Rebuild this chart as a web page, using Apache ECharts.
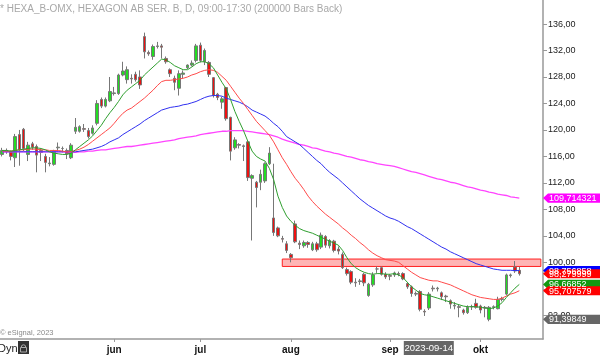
<!DOCTYPE html>
<html><head><meta charset="utf-8">
<script src="https://cdn.jsdelivr.net/npm/echarts@6/dist/echarts.min.js"></script>
<style>html,body{margin:0;padding:0;background:#fff}#c{width:600px;height:356px}</style>
</head><body><div id="c"></div>
<script>
const dates = ['2023-04-24','2023-04-25','2023-04-26','2023-04-27','2023-04-28',
'2023-05-02','2023-05-03','2023-05-04','2023-05-05','2023-05-08','2023-05-09','2023-05-10','2023-05-11','2023-05-12','2023-05-15','2023-05-16','2023-05-17','2023-05-19','2023-05-22','2023-05-23','2023-05-24','2023-05-25','2023-05-26','2023-05-29','2023-05-30','2023-05-31',
'2023-06-01','2023-06-02','2023-06-05','2023-06-07','2023-06-08','2023-06-09','2023-06-12','2023-06-13','2023-06-14','2023-06-15','2023-06-16','2023-06-19','2023-06-20','2023-06-21','2023-06-22','2023-06-26','2023-06-27','2023-06-28','2023-06-29','2023-06-30',
'2023-07-03','2023-07-04','2023-07-05','2023-07-06','2023-07-07','2023-07-10','2023-07-11','2023-07-12','2023-07-13','2023-07-14','2023-07-17','2023-07-18','2023-07-19','2023-07-20','2023-07-21','2023-07-24','2023-07-25','2023-07-26','2023-07-27','2023-07-28','2023-07-31',
'2023-08-01','2023-08-02','2023-08-03','2023-08-04','2023-08-07','2023-08-08','2023-08-09','2023-08-10','2023-08-11','2023-08-14','2023-08-15','2023-08-16','2023-08-17','2023-08-18','2023-08-21','2023-08-22','2023-08-23','2023-08-24','2023-08-25','2023-08-28','2023-08-29','2023-08-30','2023-08-31',
'2023-09-01','2023-09-04','2023-09-05','2023-09-06','2023-09-07','2023-09-08','2023-09-11','2023-09-12','2023-09-13','2023-09-14','2023-09-15','2023-09-18','2023-09-19','2023-09-20','2023-09-21','2023-09-22','2023-09-25','2023-09-26','2023-09-27','2023-09-28','2023-09-29',
'2023-10-02','2023-10-03','2023-10-04','2023-10-05','2023-10-06','2023-10-09','2023-10-10','2023-10-11','2023-10-12','2023-10-13','2023-10-16','2023-10-17','2023-10-18','2023-10-19','2023-10-20'];

const opens = [116.3,116.9,116.7,115.8,119.3,120.1,116.3,117.9,117.5,116.9, 116.0,114.9,114.8,117.3,117.2,116.9,115.8,119.8,119.8,120.2, 119.9,119.5,121.0,124.6,123.6,124.4,125.5,125.5,128.3,127.6, 127.8,128.4,128.0,134.1,131.7,131.1,132.6,132.7,130.8,129.1, 127.8,126.3,128.4,129.4,129.8,130.5,132.8,130.3,130.2,127.9, 125.4,124.2,126.4,121.9,117.3,117.8,117.6,118.2,112.7,112.1, 112.1,112.3,114.9,106.7,105.2,103.6,102.8,101.2,105.8,102.9, 102.5,103.0,101.9,102.8,102.3,103.9,102.5,103.2,102.0,101.2, 98.9,98.6,97.0,97.1,98.2,95.0,96.6,99.0,99.2,98.2, 98.0,98.1,98.3,98.3,96.8,96.3,95.3,95.6,92.6,93.1, 96.1,96.0,95.4,94.9,94.2,93.4,93.3,92.8,92.4,93.3, 93.8,93.4,93.2,91.4,93.2,93.0,94.5,95.2,98.0,99.3, 98.8];
const highs = [117.3,117.2,116.9,119.4,120.0,120.3,118.2,118.2,117.8,117.2, 116.4,115.9,117.0,118.1,117.5,117.2,118.0,121.8,120.7,120.9, 120.3,120.7,124.5,124.9,124.9,128.0,126.5,128.5,130.3,129.6, 128.4,128.8,129.0,134.7,132.0,132.9,133.3,133.0,131.1,129.3, 128.2,129.0,129.0,129.9,130.5,133.0,133.2,132.3,130.4,128.0, 125.6,125.0,126.5,122.0,118.9,118.0,117.8,118.3,113.3,112.3, 114.0,115.1,117.4,114.9,105.4,104.0,103.2,101.4,106.3,103.3, 103.3,103.2,103.1,103.1,104.5,104.1,103.5,103.4,102.4,101.5, 99.2,98.8,97.6,97.5,98.4,96.9,98.5,99.4,99.4,98.5, 98.2,98.6,98.6,98.5,97.0,96.5,95.6,95.8,92.9,95.5, 96.5,96.3,95.6,95.1,94.4,94.0,93.6,93.0,93.5,93.6, 94.5,93.6,93.4,93.4,93.5,94.8,94.8,98.3,98.3,100.2, 99.3];
const lows = [116.0,116.4,115.4,114.4,114.6,116.8,115.3,117.0,113.6,115.3, 113.6,114.5,114.6,116.8,116.6,115.6,115.6,119.4,119.6,119.7, 118.7,119.3,120.7,123.3,123.4,124.2,125.2,125.3,128.1,127.0, 127.0,127.3,126.2,130.8,131.2,130.6,132.3,130.8,130.0,128.0, 126.0,125.2,127.8,129.2,129.6,130.2,130.2,129.8,128.0,124.9, 124.5,123.2,121.4,115.4,117.0,117.2,115.3,112.3,103.3,108.3, 110.9,112.0,114.7,104.0,103.8,103.0,101.4,100.0,102.9,102.0, 102.2,102.2,101.7,101.6,102.0,102.2,102.1,101.5,101.2,99.0, 98.0,96.7,96.3,96.6,96.4,94.8,96.3,98.4,98.0,97.5, 97.3,97.8,97.9,97.3,96.0,94.8,94.9,92.6,91.9,92.8, 95.6,95.6,94.3,94.0,93.0,92.9,91.7,92.1,92.2,92.8, 93.0,92.3,91.7,91.1,92.9,92.9,94.1,95.0,97.7,98.4, 98.0];
const closes = [116.9,116.7,116.0,119.0,117.0,117.2,117.7,117.4,116.2,116.6, 115.1,115.0,116.8,117.4,117.2,116.4,117.7,120.4,120.5,120.1, 119.0,120.3,124.0,123.6,124.6,125.8,125.6,128.3,128.9,129.1, 127.7,127.6,126.8,131.8,131.5,132.6,132.7,132.5,130.3,128.5, 127.2,128.5,128.6,129.8,130.1,132.7,130.5,132.0,128.4,125.2, 124.9,124.7,121.7,116.8,118.5,117.7,117.5,112.8,113.1,111.3, 113.3,114.9,116.5,104.5,104.0,103.5,101.8,100.7,103.1,102.7, 103.0,102.7,102.8,101.9,104.1,102.6,103.3,101.8,101.7,99.2, 98.3,97.0,96.9,97.2,96.9,96.7,98.1,99.0,98.2,97.8, 97.9,98.4,98.2,97.5,96.3,95.3,95.2,92.9,92.5,95.2, 96.0,96.1,94.8,94.8,93.7,93.5,93.2,92.4,93.2,93.3, 93.2,92.8,93.1,93.2,93.3,94.4,94.4,98.1,98.1,98.7, 98.28];

const maGreen = [116.9,116.9,116.8,116.9,117.0,117.1,117.2,117.3,117.3,117.2, 117.0,116.7,116.5,116.4,116.3,116.3,116.5,117.0,117.5,118.0, 118.5,119.1,119.9,120.7,121.7,122.6,123.4,124.3,125.3,126.0, 126.5,127.0,127.5,128.3,128.9,129.5,130.1,130.7,130.6,130.2, 129.7,129.4,129.1,129.1,129.5,130.0,130.3,130.3,130.0,129.4, 128.3,127.2,126.2,124.6,122.8,121.3,119.9,118.3,116.8,116.0, 115.6,115.3,114.2,112.5,110.0,108.3,107.0,106.2,105.6,105.1, 104.8,104.6,104.4,104.1,103.8,103.5,103.2,102.9,102.6,101.8, 100.7,99.8,99.2,98.8,98.5,98.3,98.2,98.3,98.3,98.2, 98.2,98.3,98.1,97.7,97.0,96.3,95.8,95.3,95.1,95.0, 94.8,94.6,94.4,94.2,94.0,93.8,93.6,93.4,93.3,93.3, 93.3,93.2,93.1,93.0,93.1,93.4,93.9,94.7,95.4,96.1, 96.66852];
const maRed = [116.8,116.8,116.8,116.9,117.0,117.0,117.1,117.1,117.1,117.0, 117.0,116.9,116.9,116.9,116.8,116.7,116.7,116.9,117.1,117.4, 117.8,118.3,118.8,119.3,119.8,120.3,121.0,121.8,122.5,123.0, 123.3,123.8,124.3,124.8,125.4,126.0,126.7,127.3,127.5,127.5, 127.6,127.7,127.8,128.0,128.3,128.5,128.8,129.0,129.1,129.0, 128.7,128.1,127.5,126.6,125.7,124.8,124.0,123.1,122.2,121.3, 120.6,119.9,119.2,118.2,117.0,115.8,114.8,113.7,112.7,111.9, 111.0,110.0,109.2,108.5,107.9,107.3,106.8,106.3,105.8,105.2, 104.7,104.1,103.6,103.0,102.5,101.9,101.4,101.0,100.7,100.4, 100.3,100.2,100.0,99.5,99.0,98.5,98.1,97.7,97.5,97.3, 97.2,97.2,97.0,96.8,96.6,96.3,96.0,95.7,95.4,95.1, 94.9,94.7,94.6,94.5,94.4,94.4,94.6,94.9,95.2,95.4, 95.707579];
const maBlue = [116.7,116.7,116.7,116.7,116.7,116.7,116.7,116.7,116.7,116.7, 116.7,116.7,116.7,116.7,116.7,116.7,116.7,116.7,116.8,116.9, 117.0,117.1,117.3,117.5,117.8,118.2,118.5,118.8,119.3,119.7, 120.1,120.5,120.9,121.4,121.8,122.2,122.6,123.0,123.2,123.4, 123.5,123.6,123.8,123.9,124.1,124.3,124.6,124.9,125.1,125.2, 125.2,125.1,124.8,124.6,124.4,124.2,123.9,123.5,123.0,122.7, 122.4,122.1,121.6,121.0,120.5,119.8,119.0,118.6,118.2,117.8, 117.2,116.6,116.0,115.4,114.9,114.2,113.6,113.1,112.6,112.0, 111.4,110.8,110.2,109.6,109.1,108.6,108.2,107.8,107.4,107.0, 106.7,106.5,106.2,105.8,105.4,105.1,104.7,104.3,103.9,103.5, 103.1,102.7,102.3,102.0,101.6,101.3,101.0,100.7,100.4,100.1, 99.8,99.6,99.4,99.2,99.0,98.9,98.8,98.8,98.8,98.76, 98.756858];
const maMagenta = [116.7,116.7,116.7,116.7,116.7,116.7,116.7,116.7,116.7,116.7, 116.7,116.7,116.7,116.7,116.7,116.7,116.6,116.6,116.7,116.7, 116.8,116.8,116.9,117.0,117.0,117.1,117.2,117.3,117.4,117.5, 117.5,117.6,117.7,117.8,117.9,118.0,118.1,118.2,118.3,118.4, 118.5,118.7,118.8,118.9,119.0,119.1,119.3,119.4,119.5,119.6, 119.7,119.8,119.8,119.9,119.9,119.9,119.9,119.8,119.7,119.6, 119.5,119.4,119.3,119.1,118.9,118.6,118.4,118.2,118.0,117.8, 117.7,117.5,117.3,117.2,117.0,116.8,116.7,116.5,116.4,116.2, 116.0,115.9,115.7,115.5,115.4,115.2,115.1,114.9,114.8,114.7, 114.6,114.5,114.3,114.1,113.9,113.7,113.6,113.4,113.2,113.0, 112.8,112.6,112.5,112.3,112.1,112.0,111.8,111.6,111.4,111.3, 111.1,110.9,110.8,110.6,110.5,110.3,110.2,110.1,109.9,109.8, 109.714321];

const monthLabels = {'2023-06-01':'jun','2023-07-03':'jul','2023-08-01':'aug','2023-09-01':'sep','2023-10-02':'okt'};
const yTicks = [92,96,100,104,108,112,116,120,124,128,132,136];
const zoneTop = 100.5, zoneBottom = 99.38, zoneStart = '2023-07-28';
const tagValues = [109.714321, 98.756858, 98.279999, 96.66852, 95.707579];
const tagColors = ['#ff00ff', '#0000ff', '#ff0000', '#119911', '#ff0000'];
const crossDate = '2023-09-14', crossValue = 91.39849;
const titleText = '* HEXA_B-OMX, HEXAGON AB SER. B, D, 09:00-17:30 (200000 Bars Back)';

const FONT = '"Liberation Sans", Arial, sans-serif';
const candle = dates.map((d, i) => i < opens.length ? [opens[i], closes[i], lows[i], highs[i]] : '-');
const isMonth = (i, v) => !!monthLabels[v];
const lineS = (data, color, w) => ({type: 'line', data, symbol: 'none', showSymbol: false, z: 3,
  lineStyle: {color, width: w}, silent: true, animation: false});

const chart = echarts.init(document.getElementById('c'), null, {renderer: 'canvas'});
chart.setOption({
  animation: false,
  backgroundColor: '#fff',
  grid: {left: 0, right: 57, top: 0, bottom: 17, containLabel: false},
  xAxis: {type: 'category', data: dates, boundaryGap: true,
    axisLine: {show: true, lineStyle: {color: '#999', width: 1.5}},
    axisTick: {show: true, alignWithLabel: true, interval: isMonth, length: 3, lineStyle: {color: '#999'}},
    axisLabel: {interval: isMonth, formatter: v => monthLabels[v] || '', fontWeight: 'bold', fontSize: 10,
      color: '#111', margin: 6, fontFamily: FONT},
    splitLine: {show: false}},
  yAxis: {type: 'value', position: 'right', min: 88.42, max: 139.63,
    splitLine: {show: false},
    axisLine: {show: true, lineStyle: {color: '#999', width: 1.5}},
    axisTick: {show: true, customValues: yTicks, length: 4, lineStyle: {color: '#999'}},
    axisLabel: {customValues: yTicks, formatter: v => v.toFixed(2).replace('.', ','), color: '#222',
      fontSize: 9, margin: 5, fontFamily: FONT}},
  series: [
    {type: 'candlestick', data: candle, barWidth: 3, z: 2,
      itemStyle: {color: '#22dd22', color0: '#ee1111', borderColor: '#777', borderColor0: '#777', borderWidth: 1},
      markArea: {silent: true, itemStyle: {color: 'rgba(255,90,90,0.45)', borderColor: '#ff2020', borderWidth: 1},
        data: [[{coord: [zoneStart, zoneTop]}, {coord: [dates[dates.length - 1], zoneBottom]}]]}},
    lineS(maMagenta, '#ff44ff', 1.3),
    lineS(maBlue, '#3030f0', 1),
    lineS(maRed, '#ff4a4a', 1),
    lineS(maGreen, '#2f9f2f', 1)
  ]
});

const g = [];
g.push({type: 'text', x: 0, y: 9, style: {text: titleText, fill: '#a8a8a8', font: '10px ' + FONT, verticalAlign: 'middle'}});
g.push({type: 'text', x: 0, y: 333, style: {text: '\u00a9 eSignal, 2023', fill: '#8a8a8a', font: '7.5px ' + FONT, verticalAlign: 'middle'}});
g.push({type: 'text', x: -2, y: 349, style: {text: 'Dyn', fill: '#222', font: '11px ' + FONT, verticalAlign: 'middle'}});
g.push({type: 'rect', shape: {x: 18, y: 341, width: 11, height: 13}, style: {fill: '#333'}});
g.push({type: 'rect', shape: {x: 20.5, y: 347.5, width: 6, height: 4.5}, style: {fill: 'none', stroke: '#aaa', lineWidth: 1}});
g.push({type: 'arc', shape: {cx: 23.5, cy: 347, r: 2.2, startAngle: Math.PI, endAngle: 2 * Math.PI}, style: {fill: 'none', stroke: '#aaa', lineWidth: 1}});
const cx = chart.convertToPixel({xAxisIndex: 0}, crossDate);
g.push({type: 'rect', shape: {x: cx - 25, y: 341, width: 50, height: 14}, style: {fill: '#666'}});
g.push({type: 'text', x: cx, y: 348, style: {text: crossDate, fill: '#fff', font: '9.5px ' + FONT, align: 'center', verticalAlign: 'middle'}});
const tag = (v, color) => {
  const y = chart.convertToPixel({yAxisIndex: 0}, v);
  g.push({type: 'polygon', shape: {points: [[543, y], [548, y - 4.6], [600, y - 4.6], [600, y + 4.6], [548, y + 4.6]]}, style: {fill: color}, z: 100});
  g.push({type: 'text', x: 549, y: y + 0.5, z: 101, style: {text: v.toString().replace('.', ','), fill: '#fff', font: '9px ' + FONT, verticalAlign: 'middle'}});
};
tagValues.forEach((v, i) => tag(v, tagColors[i]));
tag(crossValue, '#666');
chart.setOption({graphic: g});
</script></body></html>
